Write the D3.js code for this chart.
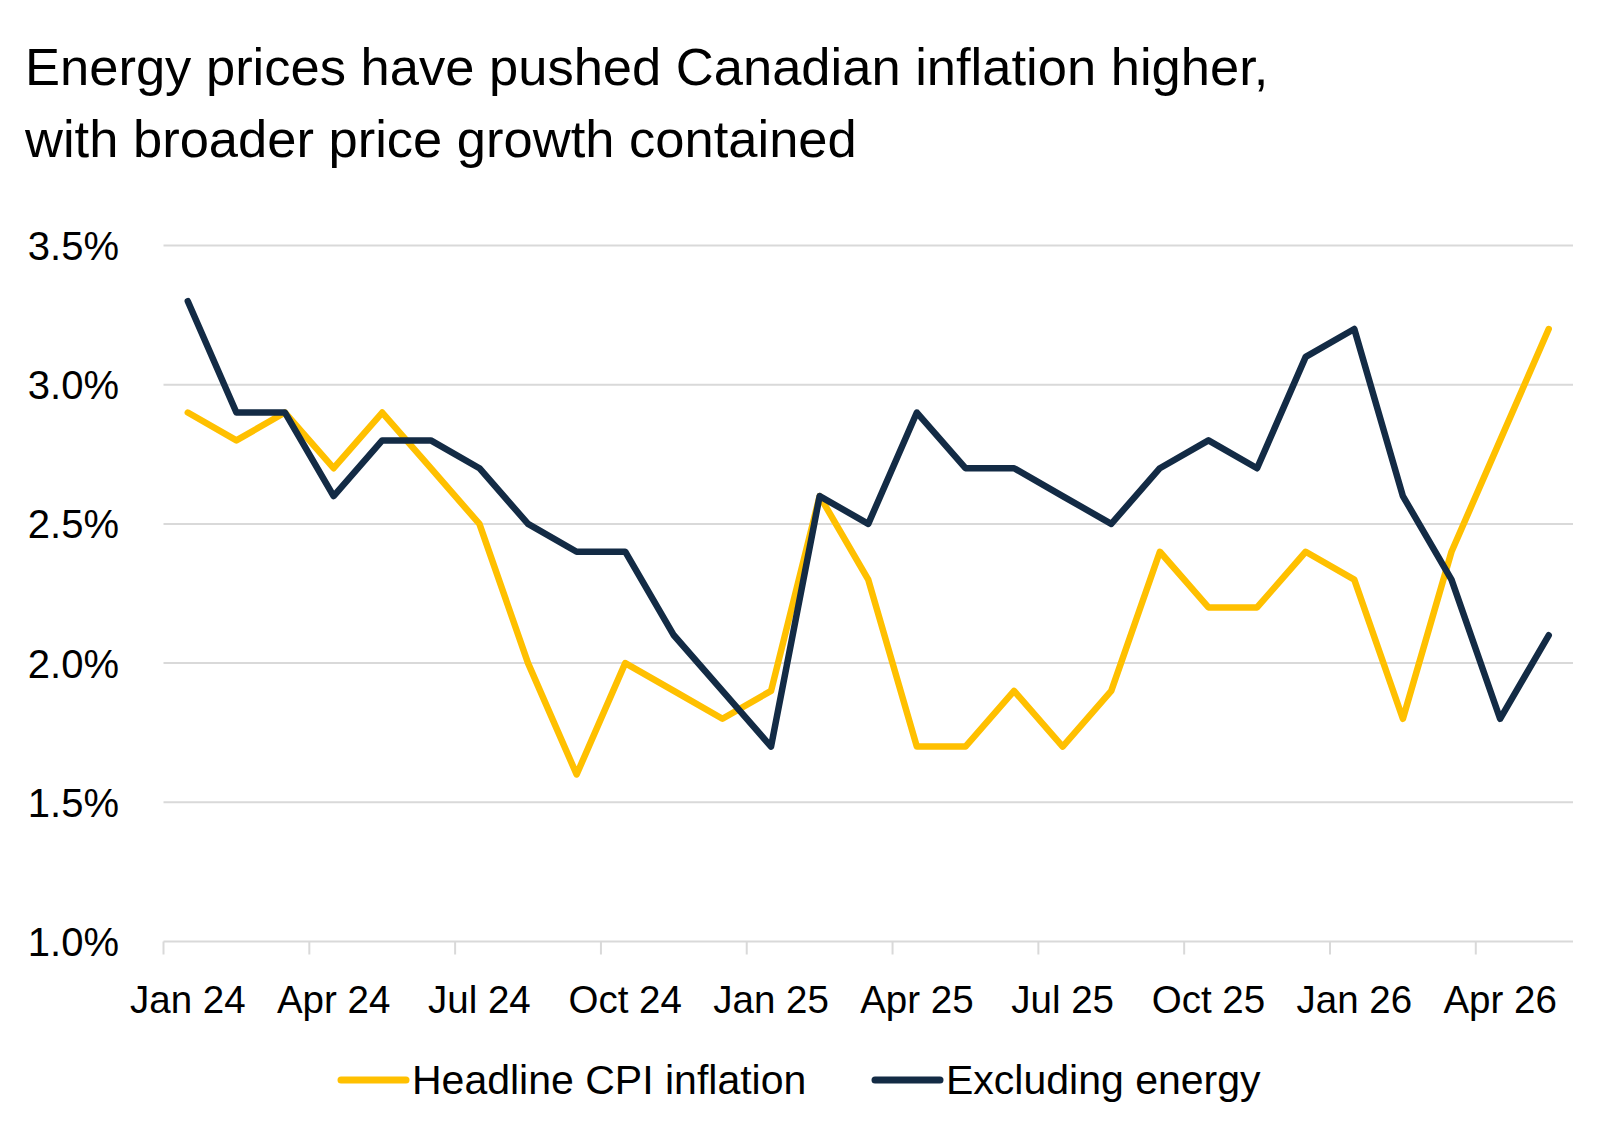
<!DOCTYPE html>
<html>
<head>
<meta charset="utf-8">
<script src="https://cdn.jsdelivr.net/npm/d3@7"></script>
<style>
  html, body { margin: 0; padding: 0; background: #fff; }
  svg text { font-family: "Liberation Sans", Arial, sans-serif; fill: #000; }
</style>
</head>
<body>
<div id="chart"></div>
<script>
// monthly categories, Jan 24 .. May 26
const months = ['Jan 24','Feb 24','Mar 24','Apr 24','May 24','Jun 24','Jul 24','Aug 24','Sep 24','Oct 24','Nov 24','Dec 24',
  'Jan 25','Feb 25','Mar 25','Apr 25','May 25','Jun 25','Jul 25','Aug 25','Sep 25','Oct 25','Nov 25','Dec 25',
  'Jan 26','Feb 26','Mar 26','Apr 26','May 26'];
const headline = [2.9,2.8,2.9,2.7,2.9,2.7,2.5,2.0,1.6,2.0,1.9,1.8,1.9,2.6,2.3,1.7,1.7,1.9,1.7,1.9,2.4,2.2,2.2,2.4,2.3,1.8,2.4,2.8,3.2];
const exEnergy = [3.3,2.9,2.9,2.6,2.8,2.8,2.7,2.5,2.4,2.4,2.1,1.9,1.7,2.6,2.5,2.9,2.7,2.7,2.6,2.5,2.7,2.8,2.7,3.1,3.2,2.6,2.3,1.8,2.1];
const yTicks = [1.0,1.5,2.0,2.5,3.0,3.5];
const xLabels = ['Jan 24','Apr 24','Jul 24','Oct 24','Jan 25','Apr 25','Jul 25','Oct 25','Jan 26','Apr 26'];
const seriesNames = ['Headline CPI inflation','Excluding energy'];

const W = 1600, H = 1128;
const plotLeft = 163.5, plotRight = 1573, plotTop = 245.5, plotBottom = 941.5;
const yellow = '#FFC000', navy = '#132B45', grid = '#d9d9d9';

const svg = d3.select('#chart').append('svg')
  .attr('width', W).attr('height', H)
  .attr('viewBox', `0 0 ${W} ${H}`);

svg.append('text').attr('x', 25).attr('y', 85)
  .style('font-size', '52.5px').text('Energy prices have pushed Canadian inflation higher,');
svg.append('text').attr('x', 25).attr('y', 157)
  .style('font-size', '52.5px').text('with broader price growth contained');

const x = d3.scaleBand().domain(months).range([plotLeft, plotRight]).padding(0);
const y = d3.scaleLinear().domain([1.0, 3.5]).range([plotBottom, plotTop]);

// gridlines + y labels
svg.append('g').selectAll('line').data(yTicks).enter().append('line')
  .attr('x1', plotLeft).attr('x2', plotRight)
  .attr('y1', d => y(d)).attr('y2', d => y(d))
  .attr('stroke', grid).attr('stroke-width', 2);

svg.append('g').selectAll('text').data(yTicks).enter().append('text')
  .attr('x', 119).attr('y', d => y(d)).attr('dy', '0.36em')
  .attr('text-anchor', 'end')
  .style('font-size', '40px')
  .text(d => d.toFixed(1) + '%');

// x axis: ticks at quarter boundaries, labels at category centres
const xAxis = svg.append('g');
xAxis.selectAll('line').data(xLabels).enter().append('line')
  .attr('x1', d => x(d)).attr('x2', d => x(d))
  .attr('y1', plotBottom).attr('y2', plotBottom + 13)
  .attr('stroke', grid).attr('stroke-width', 2);
xAxis.selectAll('text').data(xLabels).enter().append('text')
  .attr('x', d => x(d) + x.bandwidth() / 2).attr('y', 1013)
  .attr('text-anchor', 'middle')
  .style('font-size', '38.5px')
  .text(d => d);

const line = d3.line()
  .x((d, i) => x(months[i]) + x.bandwidth() / 2)
  .y(d => y(d));

svg.append('path').datum(headline)
  .attr('fill', 'none').attr('stroke', yellow).attr('stroke-width', 6.5)
  .attr('stroke-linejoin', 'round').attr('stroke-linecap', 'round')
  .attr('d', line);
svg.append('path').datum(exEnergy)
  .attr('fill', 'none').attr('stroke', navy).attr('stroke-width', 6.5)
  .attr('stroke-linejoin', 'round').attr('stroke-linecap', 'round')
  .attr('d', line);

// legend
const legend = [
  { name: seriesNames[0], color: yellow, x0: 341 },
  { name: seriesNames[1], color: navy, x0: 875 }
];
const lg = svg.append('g').selectAll('g').data(legend).enter().append('g');
lg.append('line')
  .attr('x1', d => d.x0).attr('x2', d => d.x0 + 65)
  .attr('y1', 1080).attr('y2', 1080)
  .attr('stroke', d => d.color).attr('stroke-width', 7).attr('stroke-linecap', 'round');
lg.append('text')
  .attr('x', d => d.x0 + 71).attr('y', 1094)
  .style('font-size', '41px')
  .text(d => d.name);
</script>
</body>
</html>
